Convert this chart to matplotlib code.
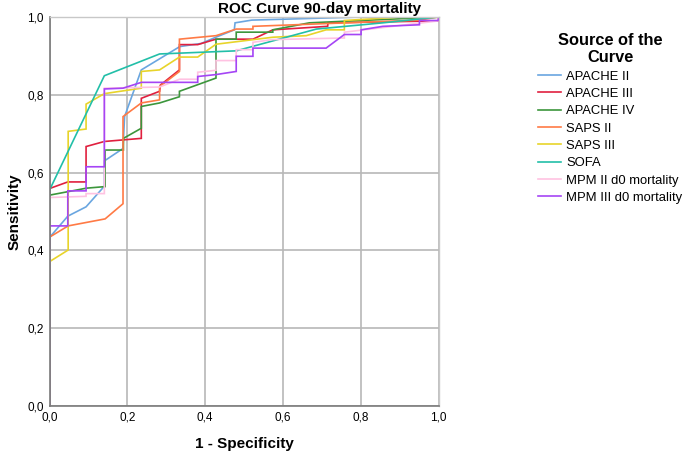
import matplotlib
matplotlib.use("Agg")
import matplotlib.pyplot as plt

plt.rcParams['font.family'] = ['Liberation Sans', 'DejaVu Sans']

series_names = ["APACHE II", "APACHE III", "APACHE IV", "SAPS II", "SAPS III",
                "SOFA", "MPM II d0 mortality", "MPM III d0 mortality"]
colors = ["#6aa6e0", "#e0203f", "#3c963c", "#ff7a45", "#e8d42a",
          "#22bfa8", "#ffc2e2", "#a545f5"]

apache2_x = [0, 0, 0.047, 0.094, 0.141, 0.141, 0.189, 0.193, 0.236, 0.335, 0.39, 0.43, 0.475, 0.477, 0.52, 0.8, 1.0]
apache2_y = [0, 0.433, 0.488, 0.512, 0.565, 0.63, 0.662, 0.744, 0.864, 0.924, 0.932, 0.949, 0.967, 0.985, 0.992, 1.0, 1.0]

apache3_x = [0, 0, 0.047, 0.094, 0.094, 0.141, 0.236, 0.236, 0.283, 0.285, 0.334, 0.334, 0.381, 0.428, 0.523, 0.574, 0.715, 0.716, 1.0, 1.0]
apache3_y = [0, 0.559, 0.576, 0.576, 0.667, 0.680, 0.688, 0.791, 0.809, 0.825, 0.864, 0.929, 0.929, 0.943, 0.943, 0.967, 0.976, 0.985, 0.99, 1.0]

apache4_x = [0, 0, 0.095, 0.143, 0.143, 0.19, 0.19, 0.236, 0.236, 0.283, 0.334, 0.334, 0.381, 0.428, 0.428, 0.48, 0.48, 0.574, 0.574, 0.668, 1.0]
apache4_y = [0, 0.542, 0.56, 0.564, 0.658, 0.658, 0.688, 0.714, 0.770, 0.779, 0.795, 0.809, 0.826, 0.843, 0.943, 0.943, 0.961, 0.961, 0.967, 0.985, 1.0]

saps2_x = [0, 0, 0.048, 0.143, 0.189, 0.189, 0.236, 0.283, 0.283, 0.334, 0.334, 0.428, 0.48, 0.523, 0.523, 0.95, 1.0]
saps2_y = [0, 0.434, 0.463, 0.481, 0.52, 0.744, 0.779, 0.787, 0.821, 0.860, 0.943, 0.952, 0.969, 0.969, 0.976, 0.992, 1.0]

saps3_x = [0, 0, 0.048, 0.048, 0.094, 0.094, 0.141, 0.236, 0.236, 0.283, 0.334, 0.381, 0.428, 0.574, 0.66, 0.711, 0.758, 0.758, 0.904, 1.0]
saps3_y = [0, 0.371, 0.401, 0.706, 0.712, 0.776, 0.803, 0.817, 0.860, 0.864, 0.897, 0.897, 0.930, 0.948, 0.952, 0.967, 0.967, 0.991, 1.0, 1.0]

sofa_x = [0, 0, 0.141, 0.283, 0.48, 0.686, 0.857, 1.0]
sofa_y = [0, 0.555, 0.849, 0.905, 0.913, 0.969, 0.985, 1.0]

mpm2_x = [0, 0, 0.094, 0.094, 0.141, 0.141, 0.283, 0.334, 0.381, 0.381, 0.428, 0.428, 0.48, 0.48, 0.523, 0.523, 0.574, 0.758, 0.758, 1.0, 1.0]
mpm2_y = [0, 0.536, 0.539, 0.546, 0.546, 0.817, 0.820, 0.840, 0.840, 0.858, 0.863, 0.888, 0.888, 0.916, 0.916, 0.935, 0.942, 0.946, 0.961, 0.99, 1.0]

mpm3_x = [0, 0, 0.047, 0.047, 0.094, 0.094, 0.141, 0.141, 0.189, 0.236, 0.381, 0.381, 0.428, 0.48, 0.48, 0.523, 0.523, 0.711, 0.758, 0.801, 0.801, 0.857, 0.951, 0.951, 1.0, 1.0]
mpm3_y = [0, 0.463, 0.463, 0.553, 0.553, 0.615, 0.615, 0.815, 0.817, 0.832, 0.832, 0.847, 0.852, 0.860, 0.899, 0.899, 0.920, 0.920, 0.955, 0.955, 0.967, 0.976, 0.980, 0.991, 0.991, 1.0]

curves = [(apache2_x, apache2_y), (apache3_x, apache3_y), (apache4_x, apache4_y),
          (saps2_x, saps2_y), (saps3_x, saps3_y), (sofa_x, sofa_y),
          (mpm2_x, mpm2_y), (mpm3_x, mpm3_y)]

ticks = [0.0, 0.2, 0.4, 0.6, 0.8, 1.0]
tick_labels = ["0,0", "0,2", "0,4", "0,6", "0,8", "1,0"]

fig = plt.figure(figsize=(6.83, 4.57), dpi=100)
ax = fig.add_axes([49.5 / 683, 1 - 406 / 457, 389 / 683, 389 / 457])

handles = []
for (xs, ys), name, c in zip(curves, series_names, colors):
    h, = ax.plot(xs, ys, color=c, lw=1.2, label=name, solid_joinstyle='miter')
    handles.append(h)

ax.set_xlim(0, 1)
ax.set_ylim(0, 1)
ax.set_xticks(ticks)
ax.set_yticks(ticks)
ax.set_xticklabels(tick_labels)
ax.set_yticklabels(tick_labels)
ax.tick_params(length=0, labelsize=8.5, pad=4)
ax.grid(True, color="#b8b8b8", lw=1.2)
ax.set_axisbelow(True)
for s in ["left", "bottom"]:
    ax.spines[s].set_color("#7a7a7a")
    ax.spines[s].set_linewidth(1.2)
for s in ["top", "right"]:
    ax.spines[s].set_color("#c8c8c8")
    ax.spines[s].set_linewidth(1.0)

ax.set_xlabel("1 - Specificity", fontsize=11, fontweight="bold", labelpad=10)
ax.set_ylabel("Sensitivity", fontsize=11, fontweight="bold", labelpad=4)
fig.text(320 / 683, 1 - 9 / 457, "ROC Curve 90-day mortality", ha="center", va="center",
         fontsize=11, fontweight="bold")

leg = fig.legend(handles=handles, loc="upper left", bbox_to_anchor=(526 / 683, 1 - 21 / 457),
                 frameon=False, fontsize=9.4, title="Source of the\nCurve",
                 title_fontproperties={"weight": "bold", "size": 11.8},
                 handlelength=1.75, handletextpad=0.45, labelspacing=0.40)
leg._legend_box.align = "center"
leg.get_title().set_multialignment("center")

fig.savefig("out.png", dpi=100)
